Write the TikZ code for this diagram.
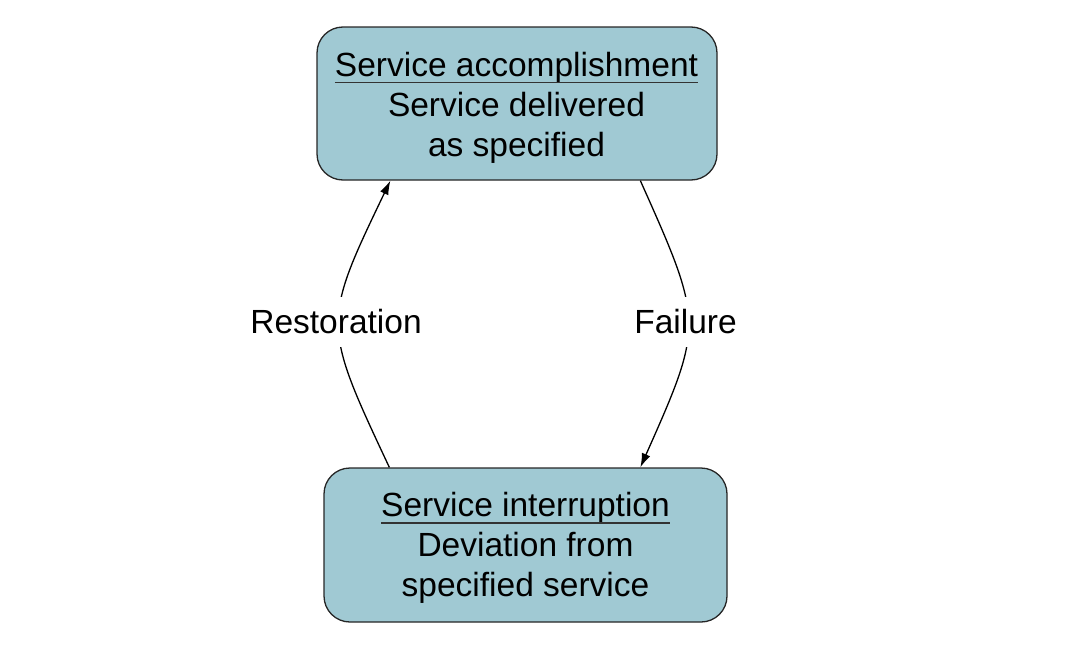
\documentclass[tikz,border=0pt]{standalone}
\usepackage{fontspec}
\setmainfont{Liberation Sans}
\usetikzlibrary{arrows.meta,calc}
\definecolor{boxfill}{RGB}{160,201,211}
\tikzset{
  statebox/.style={draw=black!85, line width=1.3pt, fill=boxfill, rounded corners=26pt, inner sep=0pt},
  txt/.style={anchor=base, inner sep=0pt, font=\fontsize{33.5}{40}\selectfont},
  lbl/.style={fill=white, inner sep=3pt, minimum height=50pt, font=\fontsize{33.5}{40}\selectfont},
  arr/.style={line width=1.3pt, -{Latex[length=14pt,width=9pt]}},
  uline/.style={line width=1.2pt, black!80}
}
\begin{document}
\begin{tikzpicture}[x=1pt,y=-1pt]
\useasboundingbox (0,0) rectangle (1067,653);
% boxes
\node[statebox, minimum width=400pt, minimum height=153pt] (top) at (517,103.5) {};
\node[statebox, minimum width=403pt, minimum height=154pt] (bot) at (525.5,545) {};
% top text
\node[txt] (t1) at (516.5,76) {Service accomplishment};
\node[txt] (t2) at (516.5,116.5) {Service delivered};
\node[txt] (t3) at (516.5,156.5) {as specified};
\draw[uline] ($(t1.base west)+(0,6.5)$) -- ($(t1.base east)+(0,6.5)$);
% bottom text
\node[txt] (b1) at (525.5,516) {Service interruption};
\node[txt] (b2) at (525.5,556.5) {Deviation from};
\node[txt] (b3) at (525.5,596.5) {specified service};
\draw[uline] ($(b1.base west)+(0,7)$) -- ($(b1.base east)+(0,7)$);
% connector endpoints
\coordinate (rs) at ($(bot.north west)+(66,0)$);
\coordinate (re) at ($(top.south west)+(74,0)$);
\coordinate (fs) at ($(top.south west)+(324,0)$);
\coordinate (fe) at ($(bot.north west)+(317,0)$);
\draw[arr] (rs) .. controls (322,324) and (322,323) .. (re);
\draw[arr] (fs) .. controls (704,323) and (704,324) .. (fe);
\node[lbl] (rl) at (336,322) {Restoration};
\node[lbl] (fl) at (685.5,322) {Failure};
\end{tikzpicture}
\end{document}
